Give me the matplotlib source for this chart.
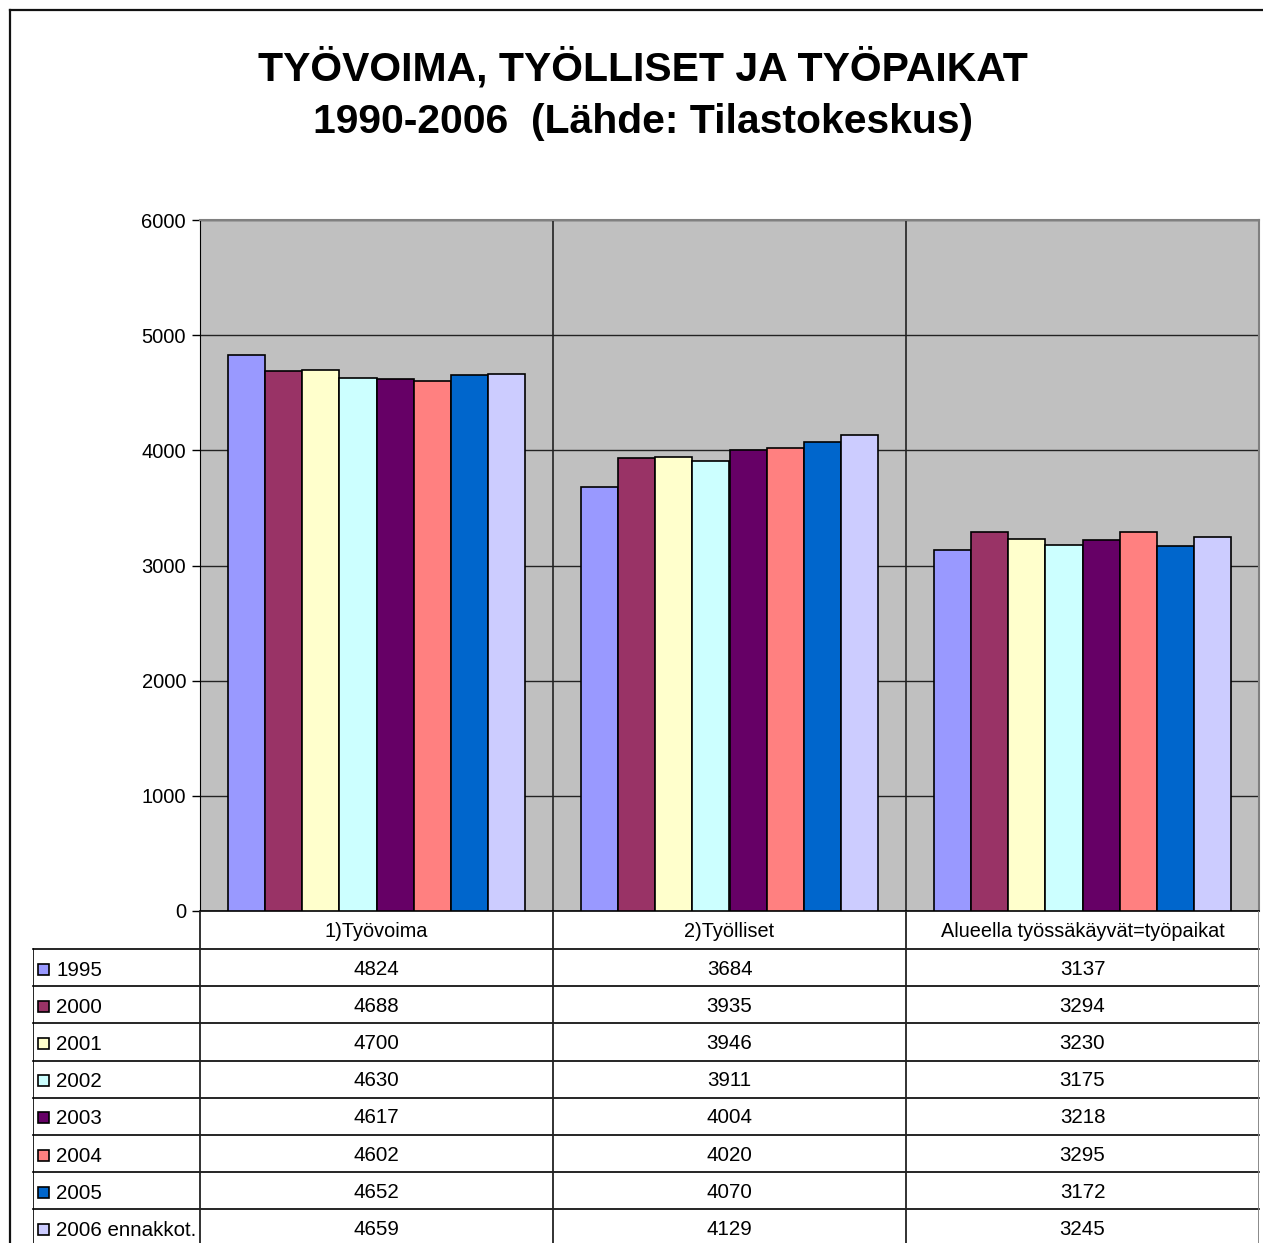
import numpy as np
import matplotlib.pyplot as plt
from matplotlib.patches import Rectangle
from matplotlib.lines import Line2D

plt.rcParams['font.family'] = ['Liberation Sans', 'DejaVu Sans']

categories = ["1)Työvoima", "2)Työlliset", "Alueella työssäkäyvät=työpaikat"]
years = ["1995", "2000", "2001", "2002", "2003", "2004", "2005", "2006 ennakkot."]
tyovoima = [4824, 4688, 4700, 4630, 4617, 4602, 4652, 4659]
tyolliset = [3684, 3935, 3946, 3911, 4004, 4020, 4070, 4129]
tyopaikat = [3137, 3294, 3230, 3175, 3218, 3295, 3172, 3245]
colors = ["#9999FF", "#993366", "#FFFFCC", "#CCFFFF", "#660066", "#FF8080", "#0066CC", "#CCCCFF"]

W, H = 1263, 1243
fig = plt.figure(figsize=(W / 100, H / 100), dpi=100)

# outer chart border (picture is cropped at right/bottom)
fig.add_artist(Line2D([10 / W, 10 / W], [0, 1 - 10 / H], color="#111111", lw=1.6, transform=fig.transFigure))
fig.add_artist(Line2D([10 / W, 1], [1 - 10 / H, 1 - 10 / H], color="#111111", lw=1.6, transform=fig.transFigure))

fig.text(643 / W, 1 - 68 / H, "TYÖVOIMA, TYÖLLISET JA TYÖPAIKAT", ha="center", va="center",
         fontsize=29.4, fontweight="bold")
fig.text(643 / W, 1 - 122 / H, "1990-2006  (Lähde: Tilastokeskus)", ha="center", va="center",
         fontsize=29.4, fontweight="bold")

# plot area
px_l, px_r, px_t, px_b = 200, 1259, 220, 911
ax = fig.add_axes([px_l / W, 1 - px_b / H, (px_r - px_l) / W, (px_b - px_t) / H])
ax.set_facecolor("#C0C0C0")

vals = np.array([tyovoima, tyolliset, tyopaikat]).T
x = np.arange(len(categories))
bw = 0.105
for i, yr in enumerate(years):
    ax.bar(x + (i - 3.5) * bw, vals[i], bw, color=colors[i], edgecolor="black", lw=1.2, zorder=3)

ax.set_xlim(-0.5, len(categories) - 0.5)
ax.set_ylim(0, 6000)
ax.set_yticks(np.arange(0, 6001, 1000))
ax.set_xticks([])
ax.yaxis.grid(True, color="#222222", lw=1.0)
ax.set_axisbelow(True)
for b in x[:-1] + 0.5:
    ax.axvline(b, color="#222222", lw=1.2, zorder=2)
ax.tick_params(axis="y", labelsize=14.5, length=6, width=1, direction="out", pad=4)
ax.spines["left"].set_color("black")
ax.spines["bottom"].set_color("black")
ax.spines["bottom"].set_linewidth(1.2)
for s in ("top", "right"):
    ax.spines[s].set_color("#808080")
    ax.spines[s].set_linewidth(1.5)

# data table below the plot, in pixel-like coords
tl = 33
tax = fig.add_axes([tl / W, 0, (px_r - tl) / W, (H - px_b) / H])
tax.set_xlim(tl, px_r)
tax.set_ylim(H - px_b, 0)
tax.axis("off")

head_h = 38
row_h = 37.2
col_w = (px_r - px_l) / len(categories)
col_edges = px_l + np.arange(len(categories) + 1) * col_w
n = len(years)
row_tops = head_h + np.arange(n + 1) * row_h

for yv in row_tops:
    tax.plot([tl, px_r], [yv, yv], color="black", lw=1.2, clip_on=False)
tax.plot([tl, tl], [head_h, row_tops[-1]], color="black", lw=1.2)
for j, xe in enumerate(col_edges):
    c = "#808080" if j == len(col_edges) - 1 else "#222222"
    tax.plot([xe, xe], [0, row_tops[-1]], color=c, lw=1.3)

for j, cat in enumerate(categories):
    tax.text(col_edges[j] + col_w / 2, head_h / 2 + 1.5, cat, ha="center", va="center", fontsize=14.3)

for i, yr in enumerate(years):
    yc = row_tops[i] + row_h / 2
    tax.add_patch(Rectangle((38, yc - 4), 11, 11, facecolor=colors[i], edgecolor="black", lw=1.2))
    tax.text(56, yc + 2.5, yr, ha="left", va="center", fontsize=14.8)
    for j in range(len(categories)):
        tax.text(col_edges[j] + col_w / 2, yc + 1.5, str(vals[i][j]), ha="center", va="center", fontsize=14.8)

fig.savefig("out.png", dpi=100)
